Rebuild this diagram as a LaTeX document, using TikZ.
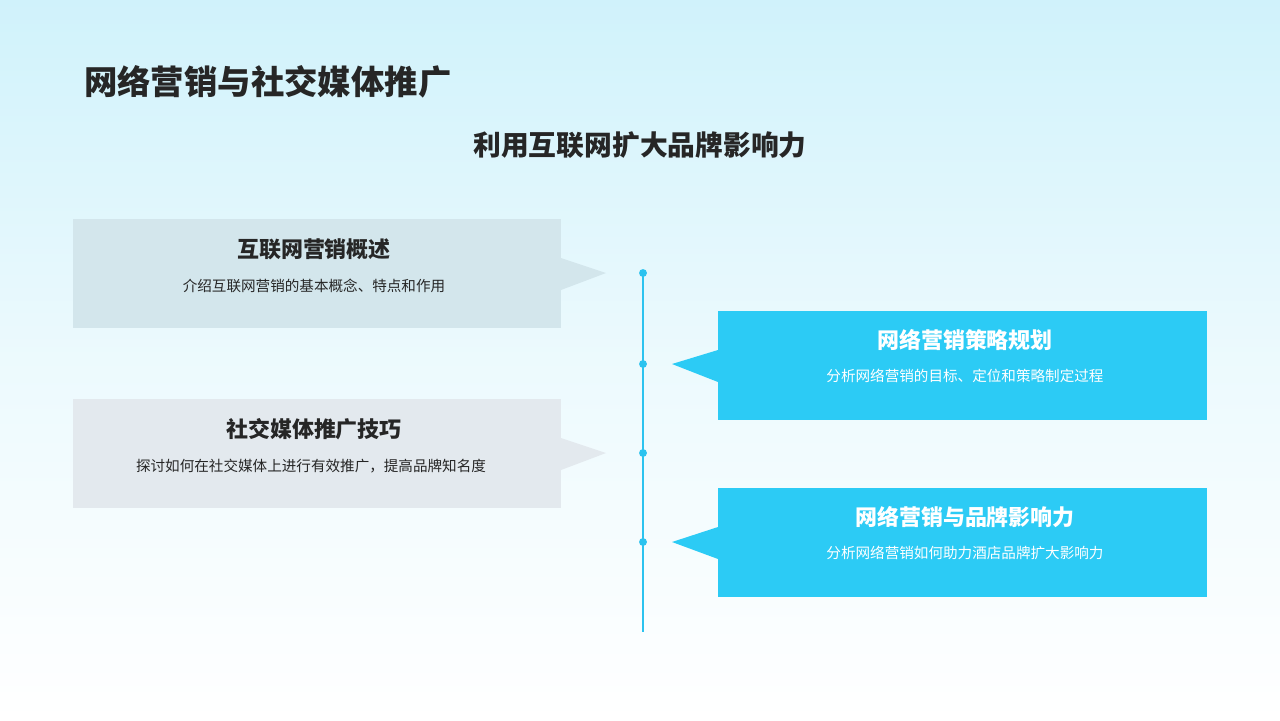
\documentclass[tikz,border=0pt]{standalone}
\usepackage{fontspec}
\setmainfont{Noto Sans CJK SC}
\definecolor{bgtop}{HTML}{D0F2FB}
\definecolor{lbox1}{HTML}{D3E6EC}
\definecolor{lbox2}{HTML}{E3E9EE}
\definecolor{rbox}{HTML}{2CCBF5}
\definecolor{lineC}{HTML}{2CC3EF}
\definecolor{txt}{HTML}{262626}
\begin{document}
\begin{tikzpicture}[x=0.02cm,y=-0.02cm,
  ttl/.style={font=\fontsize{12.5}{15}\selectfont\bfseries},
  dsc/.style={font=\fontsize{8.3}{10}\selectfont},
  dot/.style={circle,fill=lineC,inner sep=0pt,minimum size=4.5pt}]
\shade[top color=bgtop,bottom color=white,middle color=bgtop!40] (0,0) rectangle (1280,720);
\useasboundingbox (0,0) rectangle (1280,720);
\node[anchor=west,text=txt,font=\fontsize{19}{22}\selectfont\bfseries] (t) at (78,82) {网络营销与社交媒体推广};
\node[text=txt,font=\fontsize{15.8}{19}\selectfont\bfseries] (s) at (640,145) {利用互联网扩大品牌影响力};
% left boxes
\fill[lbox1] (73,219) rectangle (561,328);
\fill[lbox1] (561,258) -- (606,273) -- (561,290) -- cycle;
\fill[lbox2] (73,399) rectangle (561,508);
\fill[lbox2] (561,438) -- (606,453) -- (561,470) -- cycle;
% right boxes
\fill[rbox] (718,311) rectangle (1207,420);
\fill[rbox] (718,350) -- (672,364) -- (718,382) -- cycle;
\fill[rbox] (718,488) rectangle (1207,597);
\fill[rbox] (718,527) -- (672,542) -- (718,559) -- cycle;
% timeline
\coordinate (l0) at (643,273);
\coordinate (l1) at (643,632);
\draw[lineC,line width=1.6pt] (l0) -- (l1);
\foreach \y in {273,364,453,542} \node[dot] at (643,\y) {};
% texts
\node[ttl,text=txt] (a1) at (314,249) {互联网营销概述};
\node[dsc,text=txt] (a2) at (314,286) {介绍互联网营销的基本概念、特点和作用};
\node[ttl,text=txt] (b1) at (314,429) {社交媒体推广技巧};
\node[dsc,text=txt] (b2) at (311,466) {探讨如何在社交媒体上进行有效推广，提高品牌知名度};
\node[ttl,text=white] (c1) at (965,340) {网络营销策略规划};
\node[dsc,text=white] (c2) at (965,376) {分析网络营销的目标、定位和策略制定过程};
\node[ttl,text=white] (d1) at (965,517) {网络营销与品牌影响力};
\node[dsc,text=white] (d2) at (965,553) {分析网络营销如何助力酒店品牌扩大影响力};
\end{tikzpicture}
\end{document}
